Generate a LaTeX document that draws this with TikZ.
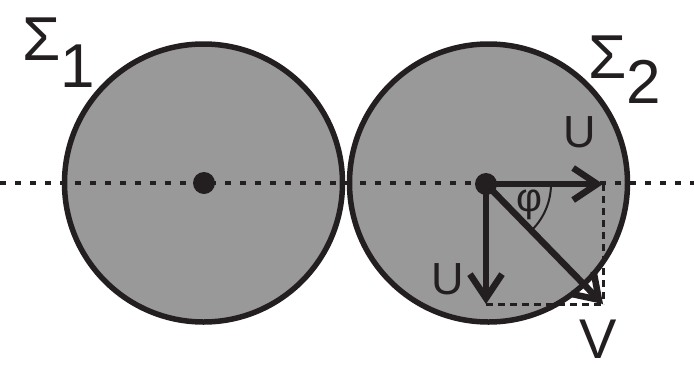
\documentclass[tikz,border=0pt]{standalone}
\usepackage{fontspec}
\setmainfont{Liberation Sans}
\usetikzlibrary{arrows.meta}
\definecolor{ink}{HTML}{231F20}
\definecolor{disc}{HTML}{999999}
\begin{document}
\begin{tikzpicture}[x=1pt,y=-1pt,
  discstyle/.style={draw=ink,fill=disc,line width=5.5pt},
  axisline/.style={draw=ink,line width=3.5pt,dash pattern=on 6pt off 9pt},
  helperline/.style={draw=ink,line width=3pt,dash pattern=on 7pt off 5pt},
  vec/.style={draw=ink,line width=6.5pt,-{Straight Barb[length=24pt,width=32pt,line width=6.5pt]}},
  lbl/.style={text=ink,inner sep=0pt,font=\fontsize{45}{45}\selectfont},
  biglbl/.style={text=ink,inner sep=0pt,font=\fontsize{56}{56}\selectfont},
  dot/.style={circle,fill=ink,minimum size=22pt,inner sep=0pt}]
\useasboundingbox (0,0) rectangle (694,365);
\path[discstyle] (203.5,183) circle (139);
\path[discstyle] (488.5,183) circle (139);
\coordinate (L) at (0,183);
\coordinate (R) at (694,183);
\draw[axisline] (L) -- (R);
\node[dot] (c1) at (204,183) {};
\node[dot] (c2) at (486,184) {};
\coordinate (tu) at (603,184);
\coordinate (td) at (486,304);
\coordinate (tv) at (603,304);
\draw[helperline] (tu) -- (tv);
\draw[helperline] (td) -- (tv);
\draw[ink,line width=2pt] ([xshift=65pt]c2.center) arc[start angle=0,end angle=-45,radius=65pt];
\draw[vec] (c2.center) -- (tu);
\draw[vec] (c2.center) -- (td);
\draw[vec] (c2.center) -- (tv);
\node[lbl,font=\fontsize{40}{40}\selectfont] (phi) at (529,205) {φ};
\node[lbl] (u1) at (580,132) {U};
\node[lbl] (u2) at (448,279) {U};
\node[biglbl,anchor=base] (v) at (598,358) {V};
\node[biglbl,font=\fontsize{62}{62}\selectfont,anchor=base west] (s1) at (22,60) {Σ\raisebox{-27pt}{1}};
\node[biglbl,font=\fontsize{62}{62}\selectfont,anchor=base west] (s2) at (588,78) {Σ\raisebox{-25pt}{2}};
\end{tikzpicture}
\end{document}
